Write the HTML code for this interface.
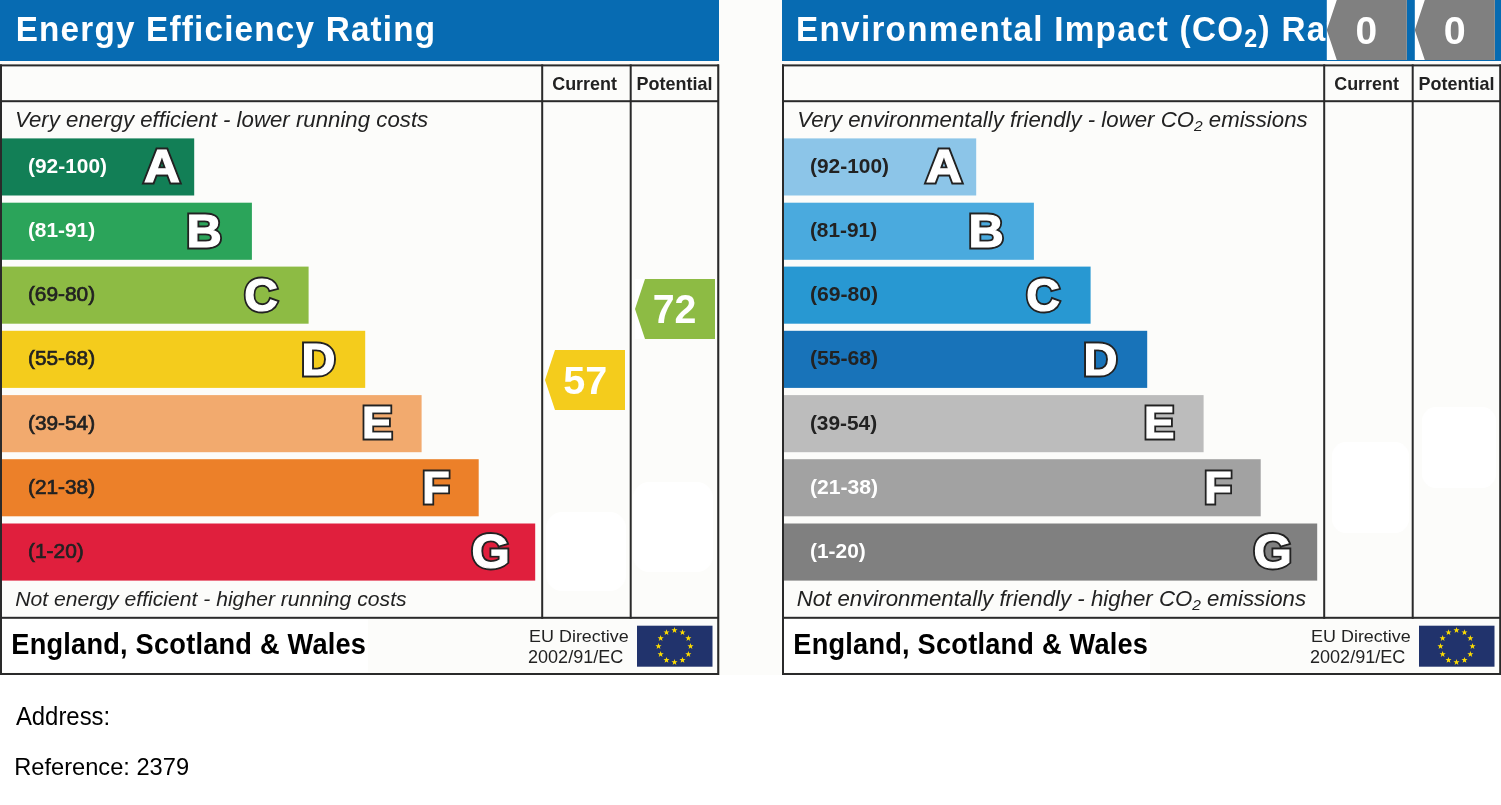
<!DOCTYPE html>
<html><head><meta charset="utf-8"><title>EPC</title><style>
html,body{margin:0;padding:0;background:#fff;}
body{width:1501px;height:805px;overflow:hidden;}
svg{display:block;will-change:transform;font-family:"Liberation Sans",sans-serif;}
.let,.let2{font-family:"Liberation Sans",sans-serif;font-weight:bold;}
.let{fill:#222222;stroke:#222222;stroke-width:4.8px;stroke-linejoin:miter;stroke-miterlimit:2;}
.let2{fill:#fff;stroke:#fff;stroke-width:1.2px;stroke-linejoin:miter;stroke-miterlimit:2;}
</style></head>
<body><svg width="1501" height="805" viewBox="0 0 1501 805">
<rect x="0" y="0" width="1501" height="675" fill="#fcfcfa"/>
<rect x="0" y="0" width="719" height="61" fill="#076bb2"/><rect x="0" y="64.4" width="719" height="2" fill="#2a2a2a"/><rect x="0" y="673" width="719" height="2" fill="#2a2a2a"/><rect x="0" y="64.4" width="2" height="610.6" fill="#2a2a2a"/><rect x="717.2" y="64.4" width="2.1" height="610.6" fill="#2a2a2a"/><rect x="0" y="100.2" width="719" height="2" fill="#2a2a2a"/><rect x="541.2" y="64.4" width="2" height="554.4" fill="#2a2a2a"/><rect x="629.7" y="64.4" width="2" height="554.4" fill="#2a2a2a"/><rect x="0" y="616.8" width="719" height="2" fill="#2a2a2a"/><rect x="2" y="619.4" width="366" height="52.4" fill="#fff"/><rect x="2" y="138.40" width="192.20" height="57.1" fill="#127f56"/><rect x="2" y="202.70" width="249.90" height="57.1" fill="#2ba45a"/><rect x="2" y="266.60" width="306.60" height="57.1" fill="#8dbb44"/><rect x="2" y="330.80" width="363.20" height="57.1" fill="#f4cc1c"/><rect x="2" y="395.10" width="419.60" height="57.1" fill="#f2aa6e"/><rect x="2" y="459.20" width="476.70" height="57.1" fill="#ec8029"/><rect x="2" y="523.50" width="533.20" height="57.1" fill="#e01f3d"/><rect x="637" y="625.7" width="75.5" height="41" fill="#21336c"/><polygon points="674.50,627.10 673.74,629.25 671.46,629.31 673.26,630.70 672.62,632.89 674.50,631.60 676.38,632.89 675.74,630.70 677.54,629.31 675.26,629.25" fill="#ffde00"/><polygon points="682.50,629.24 681.74,631.39 679.46,631.45 681.26,632.85 680.62,635.03 682.50,633.74 684.38,635.03 683.74,632.85 685.54,631.45 683.26,631.39" fill="#ffde00"/><polygon points="688.36,635.10 687.59,637.25 685.31,637.31 687.12,638.70 686.48,640.89 688.36,639.60 690.24,640.89 689.59,638.70 691.40,637.31 689.12,637.25" fill="#ffde00"/><polygon points="690.50,643.10 689.74,645.25 687.46,645.31 689.26,646.70 688.62,648.89 690.50,647.60 692.38,648.89 691.74,646.70 693.54,645.31 691.26,645.25" fill="#ffde00"/><polygon points="688.36,651.10 687.59,653.25 685.31,653.31 687.12,654.70 686.48,656.89 688.36,655.60 690.24,656.89 689.59,654.70 691.40,653.31 689.12,653.25" fill="#ffde00"/><polygon points="682.50,656.96 681.74,659.10 679.46,659.17 681.26,660.56 680.62,662.75 682.50,661.46 684.38,662.75 683.74,660.56 685.54,659.17 683.26,659.10" fill="#ffde00"/><polygon points="674.50,659.10 673.74,661.25 671.46,661.31 673.26,662.70 672.62,664.89 674.50,663.60 676.38,664.89 675.74,662.70 677.54,661.31 675.26,661.25" fill="#ffde00"/><polygon points="666.50,656.96 665.74,659.10 663.46,659.17 665.26,660.56 664.62,662.75 666.50,661.46 668.38,662.75 667.74,660.56 669.54,659.17 667.26,659.10" fill="#ffde00"/><polygon points="660.64,651.10 659.88,653.25 657.60,653.31 659.41,654.70 658.76,656.89 660.64,655.60 662.52,656.89 661.88,654.70 663.69,653.31 661.41,653.25" fill="#ffde00"/><polygon points="658.50,643.10 657.74,645.25 655.46,645.31 657.26,646.70 656.62,648.89 658.50,647.60 660.38,648.89 659.74,646.70 661.54,645.31 659.26,645.25" fill="#ffde00"/><polygon points="660.64,635.10 659.88,637.25 657.60,637.31 659.41,638.70 658.76,640.89 660.64,639.60 662.52,640.89 661.88,638.70 663.69,637.31 661.41,637.25" fill="#ffde00"/><polygon points="666.50,629.24 665.74,631.39 663.46,631.45 665.26,632.85 664.62,635.03 666.50,633.74 668.38,635.03 667.74,632.85 669.54,631.45 667.26,631.39" fill="#ffde00"/><rect x="546" y="512" width="80" height="79" rx="16" fill="#fff"/><rect x="633" y="482" width="80" height="90" rx="16" fill="#fff"/><rect x="782" y="0" width="719" height="61" fill="#076bb2"/><rect x="782" y="64.4" width="719" height="2" fill="#2a2a2a"/><rect x="782" y="673" width="719" height="2" fill="#2a2a2a"/><rect x="782" y="64.4" width="2" height="610.6" fill="#2a2a2a"/><rect x="1499.2" y="64.4" width="2.1" height="610.6" fill="#2a2a2a"/><rect x="782" y="100.2" width="719" height="2" fill="#2a2a2a"/><rect x="1323.2" y="64.4" width="2" height="554.4" fill="#2a2a2a"/><rect x="1411.7" y="64.4" width="2" height="554.4" fill="#2a2a2a"/><rect x="782" y="616.8" width="719" height="2" fill="#2a2a2a"/><rect x="784" y="619.4" width="366" height="52.4" fill="#fff"/><rect x="784" y="138.40" width="192.20" height="57.1" fill="#8cc5e8"/><rect x="784" y="202.70" width="249.90" height="57.1" fill="#4aaade"/><rect x="784" y="266.60" width="306.60" height="57.1" fill="#2898d2"/><rect x="784" y="330.80" width="363.20" height="57.1" fill="#1873b9"/><rect x="784" y="395.10" width="419.60" height="57.1" fill="#bcbcbc"/><rect x="784" y="459.20" width="476.70" height="57.1" fill="#a2a2a2"/><rect x="784" y="523.50" width="533.20" height="57.1" fill="#808080"/><rect x="1419" y="625.7" width="75.5" height="41" fill="#21336c"/><polygon points="1456.50,627.10 1455.74,629.25 1453.46,629.31 1455.26,630.70 1454.62,632.89 1456.50,631.60 1458.38,632.89 1457.74,630.70 1459.54,629.31 1457.26,629.25" fill="#ffde00"/><polygon points="1464.50,629.24 1463.74,631.39 1461.46,631.45 1463.26,632.85 1462.62,635.03 1464.50,633.74 1466.38,635.03 1465.74,632.85 1467.54,631.45 1465.26,631.39" fill="#ffde00"/><polygon points="1470.36,635.10 1469.59,637.25 1467.31,637.31 1469.12,638.70 1468.48,640.89 1470.36,639.60 1472.24,640.89 1471.59,638.70 1473.40,637.31 1471.12,637.25" fill="#ffde00"/><polygon points="1472.50,643.10 1471.74,645.25 1469.46,645.31 1471.26,646.70 1470.62,648.89 1472.50,647.60 1474.38,648.89 1473.74,646.70 1475.54,645.31 1473.26,645.25" fill="#ffde00"/><polygon points="1470.36,651.10 1469.59,653.25 1467.31,653.31 1469.12,654.70 1468.48,656.89 1470.36,655.60 1472.24,656.89 1471.59,654.70 1473.40,653.31 1471.12,653.25" fill="#ffde00"/><polygon points="1464.50,656.96 1463.74,659.10 1461.46,659.17 1463.26,660.56 1462.62,662.75 1464.50,661.46 1466.38,662.75 1465.74,660.56 1467.54,659.17 1465.26,659.10" fill="#ffde00"/><polygon points="1456.50,659.10 1455.74,661.25 1453.46,661.31 1455.26,662.70 1454.62,664.89 1456.50,663.60 1458.38,664.89 1457.74,662.70 1459.54,661.31 1457.26,661.25" fill="#ffde00"/><polygon points="1448.50,656.96 1447.74,659.10 1445.46,659.17 1447.26,660.56 1446.62,662.75 1448.50,661.46 1450.38,662.75 1449.74,660.56 1451.54,659.17 1449.26,659.10" fill="#ffde00"/><polygon points="1442.64,651.10 1441.88,653.25 1439.60,653.31 1441.41,654.70 1440.76,656.89 1442.64,655.60 1444.52,656.89 1443.88,654.70 1445.69,653.31 1443.41,653.25" fill="#ffde00"/><polygon points="1440.50,643.10 1439.74,645.25 1437.46,645.31 1439.26,646.70 1438.62,648.89 1440.50,647.60 1442.38,648.89 1441.74,646.70 1443.54,645.31 1441.26,645.25" fill="#ffde00"/><polygon points="1442.64,635.10 1441.88,637.25 1439.60,637.31 1441.41,638.70 1440.76,640.89 1442.64,639.60 1444.52,640.89 1443.88,638.70 1445.69,637.31 1443.41,637.25" fill="#ffde00"/><polygon points="1448.50,629.24 1447.74,631.39 1445.46,631.45 1447.26,632.85 1446.62,635.03 1448.50,633.74 1450.38,635.03 1449.74,632.85 1451.54,631.45 1449.26,631.39" fill="#ffde00"/><rect x="1332" y="442" width="77" height="91" rx="14" fill="#fff"/><rect x="1422" y="407" width="74" height="81" rx="14" fill="#fff"/>
<text id="title0" transform="translate(15.67,41.10) scale(0.93,1)" x="0" y="0" font-size="35.76" font-weight="bold" fill="#fff" textLength="451.06" lengthAdjust="spacing">Energy Efficiency Rating</text><text id="itop0" x="15.01" y="126.70" font-size="22.38" font-style="italic" fill="#222222" textLength="413.19" lengthAdjust="spacingAndGlyphs">Very energy efficient - lower running costs</text><text id="ibot0" x="15.19" y="605.90" font-size="20.35" font-style="italic" fill="#222222" textLength="391.41" lengthAdjust="spacingAndGlyphs">Not energy efficient - higher running costs</text><text id="cur0" x="552.21" y="90.00" font-size="18.31" font-weight="bold" fill="#222222" textLength="64.71" lengthAdjust="spacingAndGlyphs">Current</text><text id="pot0" x="636.51" y="89.60" font-size="17.73" font-weight="bold" fill="#222222" textLength="75.90" lengthAdjust="spacingAndGlyphs">Potential</text><text id="esw0" transform="translate(11.34,653.80) scale(0.94,1)" x="0" y="0" font-size="28.92" font-weight="bold" fill="#000" textLength="377.27" lengthAdjust="spacing">England, Scotland &amp; Wales</text><text id="eu10" x="529.12" y="641.80" font-size="17.15" fill="#222222" textLength="99.56" lengthAdjust="spacingAndGlyphs">EU Directive</text><text id="eu20" x="528.00" y="662.80" font-size="17.51" fill="#222222" textLength="95.31" lengthAdjust="spacingAndGlyphs">2002/91/EC</text><text id="rng0_0" x="28.00" y="172.80" font-size="20.90" font-weight="bold" fill="#fff" textLength="78.97" lengthAdjust="spacingAndGlyphs">(92-100)</text><text id="rng0_1" x="27.93" y="236.98" font-size="20.90" font-weight="bold" fill="#fff" textLength="67.18" lengthAdjust="spacingAndGlyphs">(81-91)</text><text id="rng0_2" x="27.93" y="301.16" font-size="20.90" stroke="#222222" stroke-width="0.7" fill="#222222" textLength="67.18" lengthAdjust="spacingAndGlyphs">(69-80)</text><text id="rng0_3" x="27.94" y="365.34" font-size="20.90" stroke="#222222" stroke-width="0.7" fill="#222222" textLength="67.19" lengthAdjust="spacingAndGlyphs">(55-68)</text><text id="rng0_4" x="27.94" y="429.52" font-size="20.90" stroke="#222222" stroke-width="0.7" fill="#222222" textLength="67.19" lengthAdjust="spacingAndGlyphs">(39-54)</text><text id="rng0_5" x="27.94" y="493.70" font-size="20.90" stroke="#222222" stroke-width="0.7" fill="#222222" textLength="67.19" lengthAdjust="spacingAndGlyphs">(21-38)</text><text id="rng0_6" x="27.96" y="557.88" font-size="20.90" stroke="#222222" stroke-width="0.7" fill="#222222" textLength="55.81" lengthAdjust="spacingAndGlyphs">(1-20)</text><text id="title1" transform="translate(796.07,41.30) scale(0.93,1)" x="0" y="0" font-size="35.76" font-weight="bold" fill="#fff" textLength="640.04" lengthAdjust="spacing">Environmental Impact (CO<tspan font-size="0.7em" dy="6">2</tspan><tspan dy="-6">) Rating</tspan></text><text id="itop1" x="797.20" y="126.60" font-size="22.09" font-style="italic" fill="#222222" textLength="510.41" lengthAdjust="spacingAndGlyphs">Very environmentally friendly - lower CO<tspan font-size="0.7em" dy="4">2</tspan><tspan dy="-4"> emissions</tspan></text><text id="ibot1" x="796.67" y="605.70" font-size="21.37" font-style="italic" fill="#222222" textLength="509.36" lengthAdjust="spacingAndGlyphs">Not environmentally friendly - higher CO<tspan font-size="0.7em" dy="4">2</tspan><tspan dy="-4"> emissions</tspan></text><text id="cur782" x="1334.21" y="90.00" font-size="18.31" font-weight="bold" fill="#222222" textLength="64.71" lengthAdjust="spacingAndGlyphs">Current</text><text id="pot782" x="1418.51" y="89.60" font-size="17.73" font-weight="bold" fill="#222222" textLength="75.90" lengthAdjust="spacingAndGlyphs">Potential</text><text id="esw782" transform="translate(793.34,653.80) scale(0.94,1)" x="0" y="0" font-size="28.92" font-weight="bold" fill="#000" textLength="377.27" lengthAdjust="spacing">England, Scotland &amp; Wales</text><text id="eu1782" x="1311.12" y="641.80" font-size="17.15" fill="#222222" textLength="99.56" lengthAdjust="spacingAndGlyphs">EU Directive</text><text id="eu2782" x="1310.00" y="662.80" font-size="17.51" fill="#222222" textLength="95.31" lengthAdjust="spacingAndGlyphs">2002/91/EC</text><text id="rng782_0" x="810.00" y="172.80" font-size="20.90" font-weight="bold" fill="#222222" textLength="78.97" lengthAdjust="spacingAndGlyphs">(92-100)</text><text id="rng782_1" x="809.93" y="236.98" font-size="20.90" font-weight="bold" fill="#222222" textLength="67.18" lengthAdjust="spacingAndGlyphs">(81-91)</text><text id="rng782_2" x="809.92" y="301.16" font-size="20.90" font-weight="bold" fill="#222222" textLength="68.21" lengthAdjust="spacingAndGlyphs">(69-80)</text><text id="rng782_3" x="809.92" y="365.34" font-size="20.90" font-weight="bold" fill="#222222" textLength="68.21" lengthAdjust="spacingAndGlyphs">(55-68)</text><text id="rng782_4" x="809.93" y="429.52" font-size="20.90" font-weight="bold" fill="#222222" textLength="67.18" lengthAdjust="spacingAndGlyphs">(39-54)</text><text id="rng782_5" x="809.92" y="493.70" font-size="20.90" font-weight="bold" fill="#fff" textLength="68.21" lengthAdjust="spacingAndGlyphs">(21-38)</text><text id="rng782_6" x="810.00" y="557.88" font-size="20.90" font-weight="bold" fill="#fff" textLength="55.73" lengthAdjust="spacingAndGlyphs">(1-20)</text><text id="addr" x="15.90" y="724.90" font-size="24.86" fill="#000" textLength="94.30" lengthAdjust="spacingAndGlyphs">Address:</text><text id="ref" x="14.28" y="774.90" font-size="24.27" fill="#000" textLength="174.80" lengthAdjust="spacingAndGlyphs">Reference: 2379</text>
<text class="let" transform="translate(144.04,181.57) scale(1.081,1)" font-size="45.95">A</text><text class="let2" transform="translate(144.04,181.57) scale(1.081,1)" font-size="45.95">A</text><text class="let" transform="translate(186.53,246.54) scale(1.039,1)" font-size="47.01">B</text><text class="let2" transform="translate(186.53,246.54) scale(1.039,1)" font-size="47.01">B</text><text class="let" transform="translate(244.37,310.81) scale(0.989,1)" font-size="47.06">C</text><text class="let2" transform="translate(244.37,310.81) scale(0.989,1)" font-size="47.06">C</text><text class="let" transform="translate(301.40,374.76) scale(1.071,1)" font-size="43.86">D</text><text class="let2" transform="translate(301.40,374.76) scale(1.071,1)" font-size="43.86">D</text><text class="let" transform="translate(362.06,438.15) scale(1.024,1)" font-size="44.57">E</text><text class="let2" transform="translate(362.06,438.15) scale(1.024,1)" font-size="44.57">E</text><text class="let" transform="translate(422.26,502.50) scale(1.013,1)" font-size="44.35">F</text><text class="let2" transform="translate(422.26,502.50) scale(1.013,1)" font-size="44.35">F</text><text class="let" transform="translate(471.56,567.93) scale(1.044,1)" font-size="47.17">G</text><text class="let2" transform="translate(471.56,567.93) scale(1.044,1)" font-size="47.17">G</text><text class="let" transform="translate(926.04,181.57) scale(1.081,1)" font-size="45.95">A</text><text class="let2" transform="translate(926.04,181.57) scale(1.081,1)" font-size="45.95">A</text><text class="let" transform="translate(968.53,246.54) scale(1.039,1)" font-size="47.01">B</text><text class="let2" transform="translate(968.53,246.54) scale(1.039,1)" font-size="47.01">B</text><text class="let" transform="translate(1026.37,310.81) scale(0.989,1)" font-size="47.06">C</text><text class="let2" transform="translate(1026.37,310.81) scale(0.989,1)" font-size="47.06">C</text><text class="let" transform="translate(1083.40,374.76) scale(1.071,1)" font-size="43.86">D</text><text class="let2" transform="translate(1083.40,374.76) scale(1.071,1)" font-size="43.86">D</text><text class="let" transform="translate(1144.06,438.15) scale(1.024,1)" font-size="44.57">E</text><text class="let2" transform="translate(1144.06,438.15) scale(1.024,1)" font-size="44.57">E</text><text class="let" transform="translate(1204.26,502.50) scale(1.013,1)" font-size="44.35">F</text><text class="let2" transform="translate(1204.26,502.50) scale(1.013,1)" font-size="44.35">F</text><text class="let" transform="translate(1253.56,567.93) scale(1.044,1)" font-size="47.17">G</text><text class="let2" transform="translate(1253.56,567.93) scale(1.044,1)" font-size="47.17">G</text>
<rect x="545" y="350" width="80" height="60" fill="#fff"/><polygon points="545,380.0 555,350 625,350 625,410 555,410" fill="#f4cc1c"/><rect x="635" y="279" width="80" height="60" fill="#fff"/><polygon points="635,309.0 645,279 715,279 715,339 645,339" fill="#8dbb44"/><rect x="1326.8" y="0" width="80" height="60" fill="#fff"/><polygon points="1326.8,30.0 1336.8,0 1406.8,0 1406.8,60 1336.8,60" fill="#808080"/><rect x="1414.8" y="0" width="80" height="60" fill="#fff"/><polygon points="1414.8,30.0 1424.8,0 1494.8,0 1494.8,60 1424.8,60" fill="#808080"/>
<text id="v57" x="563.17" y="393.70" font-size="39.27" font-weight="bold" fill="#fff" textLength="43.99" lengthAdjust="spacingAndGlyphs">57</text><text id="v72" x="652.67" y="323.20" font-size="40.11" font-weight="bold" fill="#fff" textLength="43.77" lengthAdjust="spacingAndGlyphs">72</text><text id="v0a" x="1355.50" y="43.90" font-size="39.27" font-weight="bold" fill="#fff" textLength="21.62" lengthAdjust="spacingAndGlyphs">0</text><text id="v0b" x="1443.63" y="43.90" font-size="39.27" font-weight="bold" fill="#fff" textLength="21.94" lengthAdjust="spacingAndGlyphs">0</text>
</svg></body></html>
